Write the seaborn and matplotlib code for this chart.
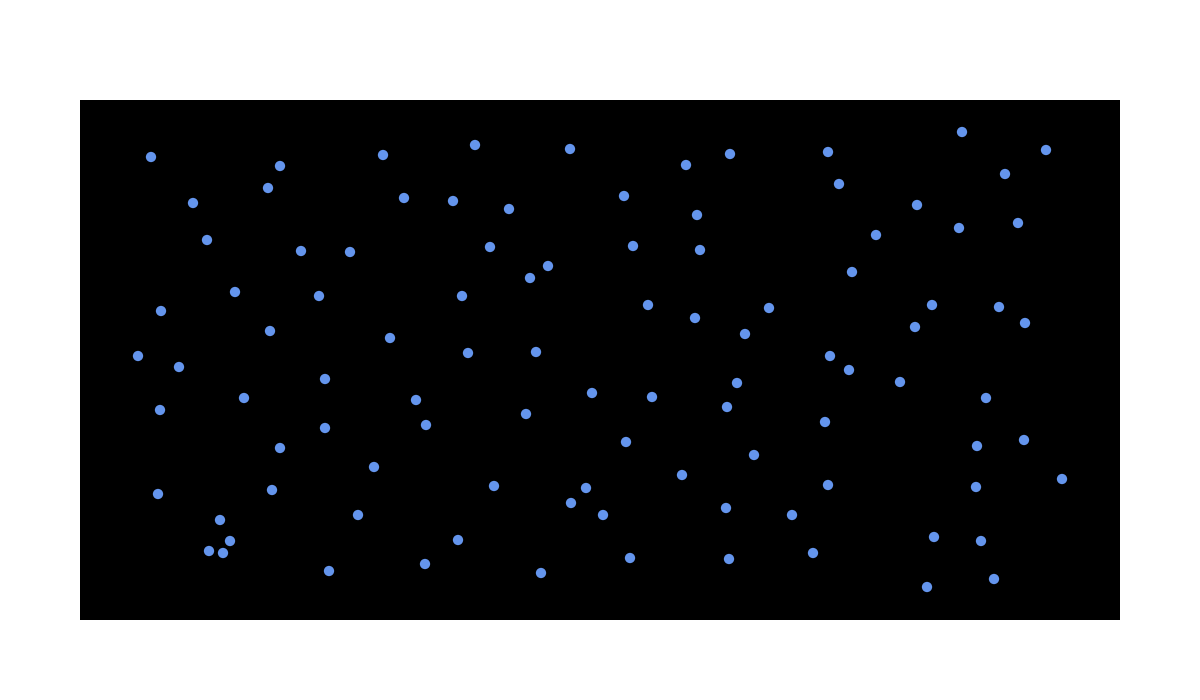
import matplotlib
matplotlib.use("Agg")
import matplotlib.pyplot as plt
import seaborn as sns
import pandas as pd

# Point positions (x grows right, y grows up)
x_vals = [71, 113, 127, 81, 58, 99, 80, 78, 140, 150, 129, 143, 155, 190, 188, 200,
          221, 239, 270, 245, 164, 200, 245, 192, 249, 278, 294, 303, 324, 373,
          395, 429, 410, 382, 310, 388, 336, 346, 414, 378, 345, 461, 450, 468,
          456, 446, 490, 544, 553, 568, 512, 572, 546, 491, 506, 523, 550, 606,
          650, 617, 620, 615, 665, 689, 657, 647, 674, 602, 646, 649, 712, 733,
          748, 745, 750, 769, 772, 796, 748, 759, 837, 879, 882, 925, 966, 938,
          852, 835, 919, 945, 820, 906, 897, 944, 896, 982, 854, 901, 914, 847]
y_vals = [463, 417, 380, 309, 264, 253, 210, 126, 100, 79, 69, 67, 328, 289, 432, 454,
          369, 324, 368, 241, 222, 172, 192, 130, 49, 105, 153, 465, 422, 419,
          475, 411, 373, 324, 282, 267, 220, 195, 134, 80, 56, 47, 342, 354,
          268, 206, 471, 424, 374, 315, 227, 223, 178, 117, 132, 105, 62, 455,
          466, 405, 370, 302, 286, 312, 237, 213, 165, 145, 112, 61, 105, 67,
          135, 198, 264, 250, 348, 385, 468, 436, 415, 392, 488, 446, 470, 397,
          315, 293, 313, 297, 238, 222, 174, 180, 133, 141, 83, 79, 41, 33]

df = pd.DataFrame({"x": x_vals, "y": y_vals})

fig = plt.figure(figsize=(12, 7), dpi=100)
ax = fig.add_axes([80 / 1200, 80 / 700, 1040 / 1200, 520 / 700])
ax.set_facecolor("black")

sns.scatterplot(data=df, x="x", y="y", ax=ax, color="#6495ED", s=55,
                edgecolor="none", linewidth=0)

ax.set_xlim(0, 1040)
ax.set_ylim(0, 520)
ax.set_xticks([])
ax.set_yticks([])
ax.set_xlabel("")
ax.set_ylabel("")
for sp in ax.spines.values():
    sp.set_visible(False)

fig.savefig("out.png", dpi=100, facecolor="white")
